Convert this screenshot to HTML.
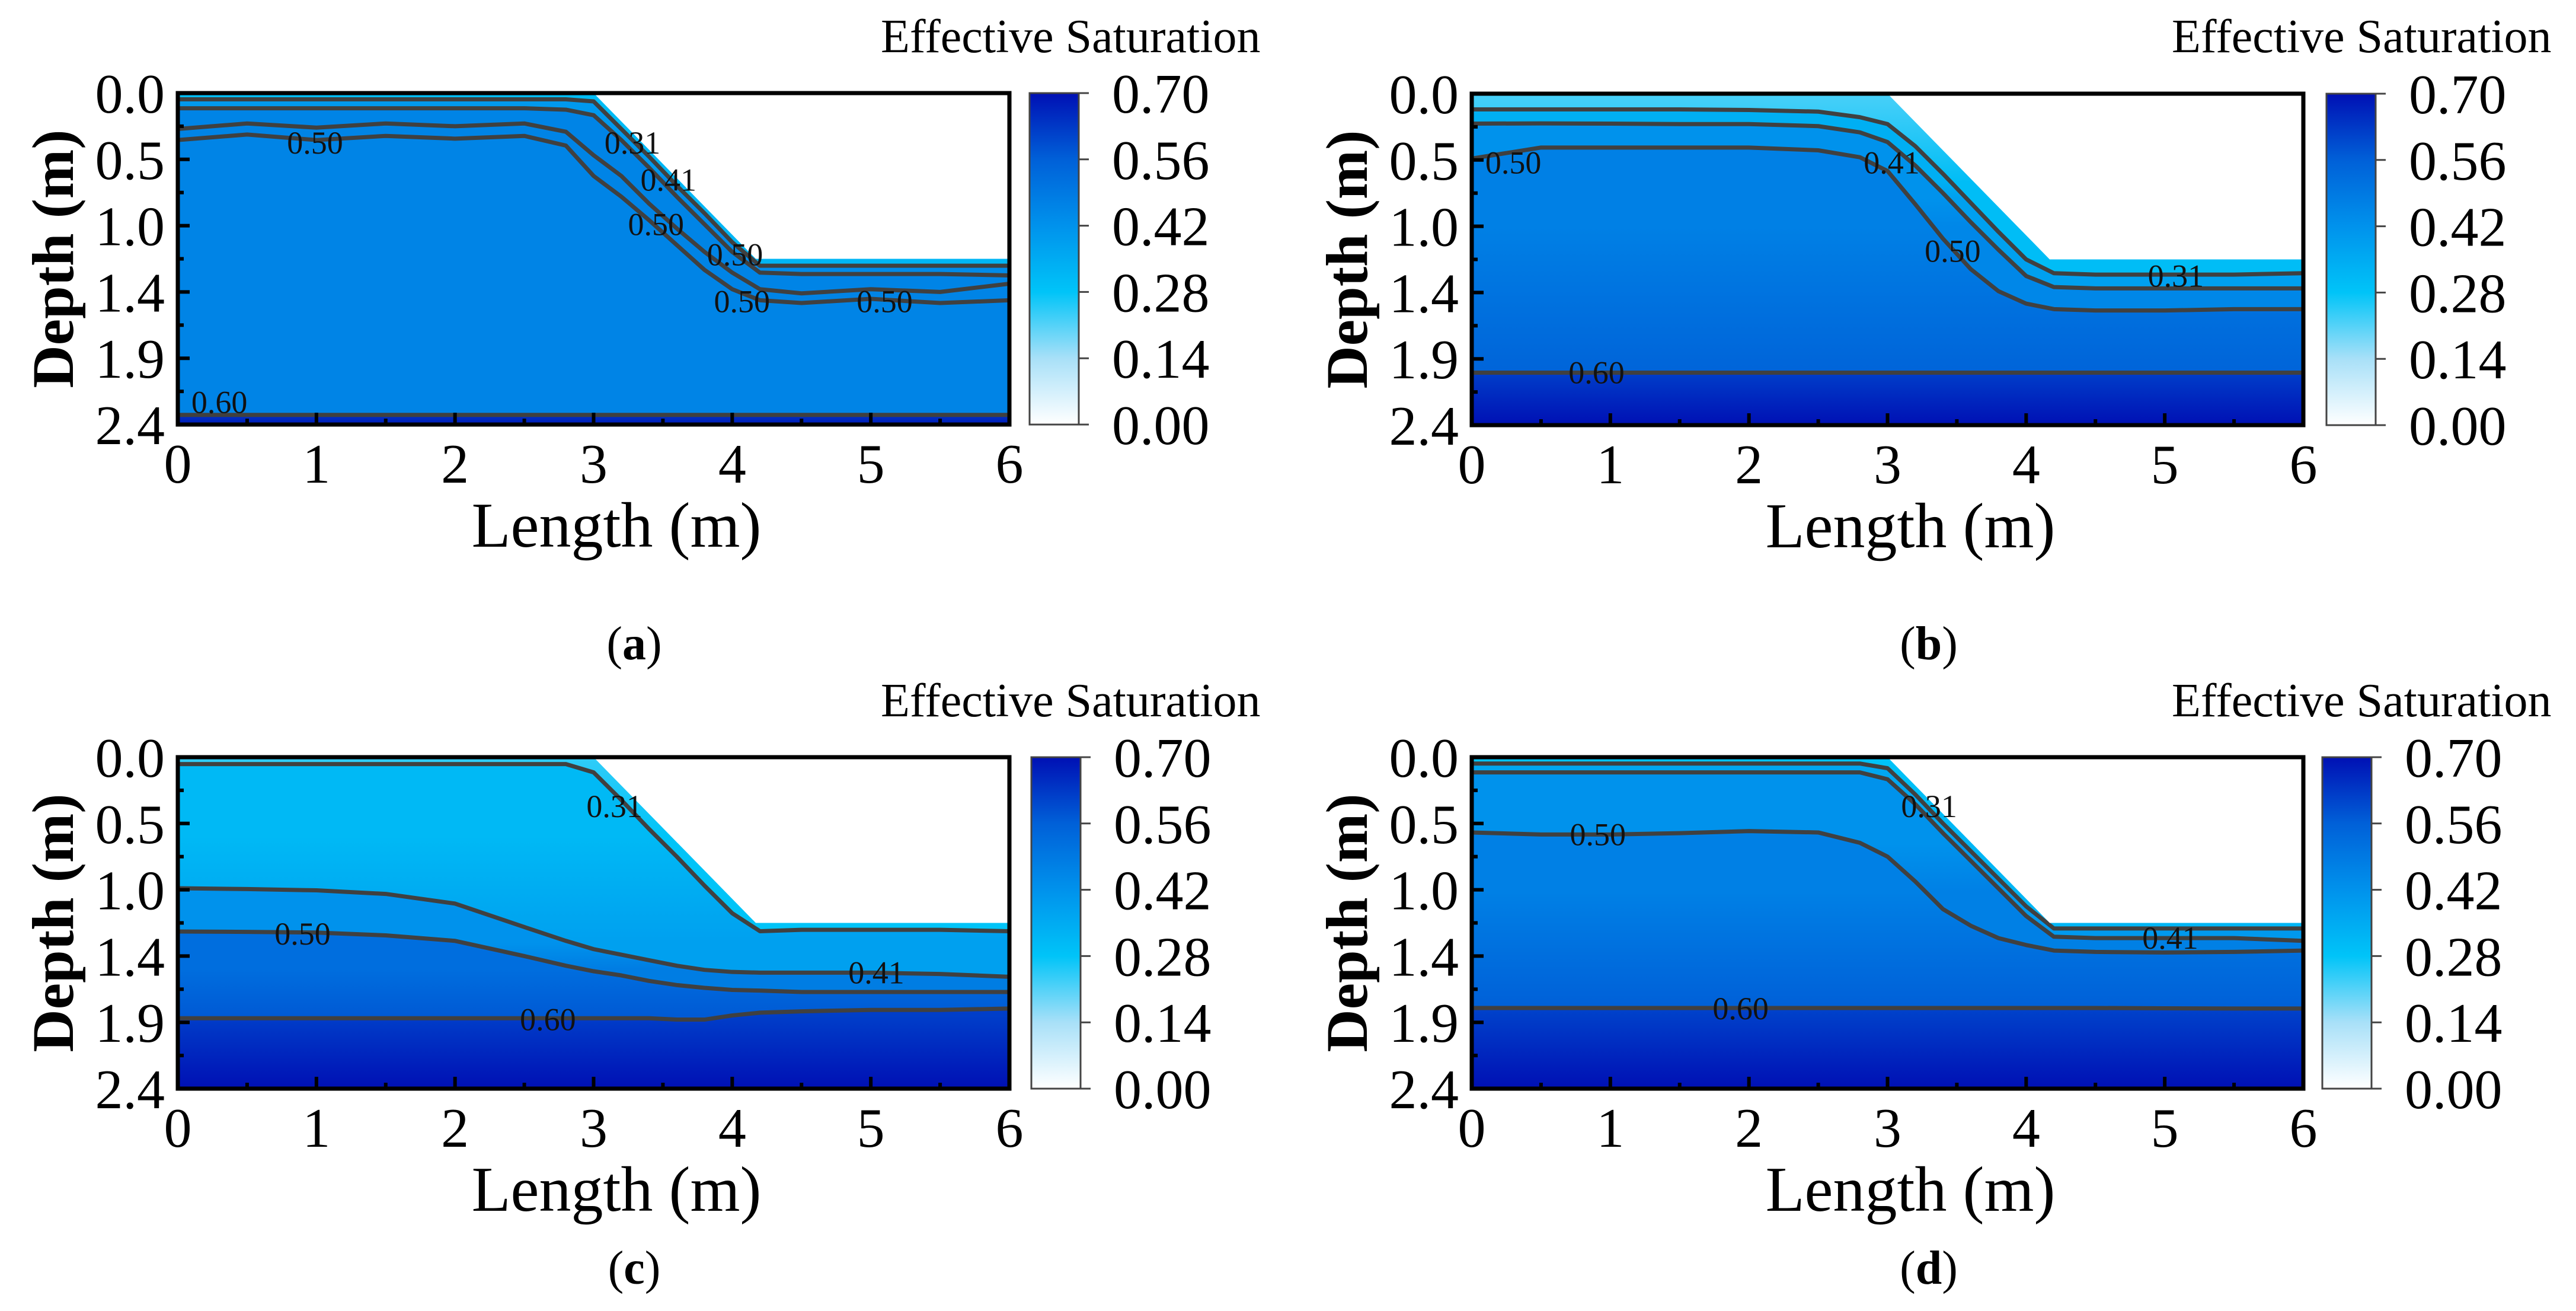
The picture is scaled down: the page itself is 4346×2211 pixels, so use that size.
<!DOCTYPE html>
<html><head><meta charset="utf-8">
<style>
html,body{margin:0;padding:0;background:#fff;}
svg{display:block;font-family:"Liberation Serif","DejaVu Serif",serif;}
</style></head>
<body>
<svg id="fig" width="4346" height="2211" viewBox="0 0 4346 2211" xmlns="http://www.w3.org/2000/svg">
<defs id="defs"></defs>
</svg>
<script>
// ---- shared data ----
const xs = [0,0.5,1,1.5,2,2.5,2.8,3,3.2,3.4,3.6,3.8,4,4.2,4.5,5,5.5,6];
const surfX = [0,3,4.17,6];
const surfD = [0,0,1.2,1.2];
const xTickLabels = ["0","1","2","3","4","5","6"];
const yTickLabels = ["0.0","0.5","1.0","1.4","1.9","2.4"];
const cbTickLabels = ["0.70","0.56","0.42","0.28","0.14","0.00"];
const cmapVals = [0,0.14,0.28,0.42,0.56,0.70];
const cmapCols = ["#ffffff","#a8e0f8","#00c4f8","#0092ec","#0060d8","#0010b4"];

// ---- panel (a) ----
const aLevels = [0.31,0.41,0.50,0.50,0.60];
const aDepths = [
 [0.045,0.045,0.045,0.045,0.045,0.045,0.045,0.06,0.26,0.46,0.67,0.87,1.08,1.25,1.25,1.25,1.25,1.25],
 [0.11,0.11,0.11,0.11,0.11,0.11,0.12,0.16,0.34,0.54,0.75,0.95,1.15,1.30,1.31,1.31,1.31,1.32],
 [0.26,0.22,0.25,0.22,0.24,0.22,0.28,0.45,0.60,0.80,0.98,1.15,1.30,1.42,1.45,1.42,1.44,1.38],
 [0.34,0.30,0.34,0.31,0.33,0.31,0.38,0.60,0.75,0.92,1.10,1.28,1.42,1.50,1.52,1.49,1.52,1.50],
 [2.33,2.33,2.33,2.33,2.33,2.33,2.33,2.33,2.33,2.33,2.33,2.33,2.33,2.33,2.33,2.33,2.33,2.33]
];
const aFillTop = [0.30,0.32];
const aFillBelow = [[0.40,0.44],[0.46,0.46],[0.46,0.46],[0.46,0.46],[0.64,0.68]];
const aLabelText = ["0.50","0.31","0.41","0.50","0.50","0.50","0.50","0.60"];
const aLabelX = [0.99,3.28,3.54,3.45,4.02,4.07,5.10,0.30];
const aLabelD = [0.36,0.36,0.63,0.95,1.17,1.51,1.51,2.24];

// ---- panel (b) ----
const bLevels = [0.31,0.41,0.50,0.60];
const bDepths = [
 [0.114,0.114,0.114,0.114,0.118,0.13,0.17,0.22,0.38,0.58,0.79,1.00,1.20,1.30,1.31,1.31,1.31,1.30],
 [0.217,0.215,0.217,0.22,0.22,0.235,0.28,0.35,0.52,0.72,0.93,1.13,1.32,1.40,1.41,1.41,1.41,1.41],
 [0.47,0.39,0.39,0.39,0.39,0.41,0.46,0.56,0.80,1.05,1.27,1.43,1.52,1.56,1.57,1.57,1.56,1.56],
 [2.02,2.02,2.02,2.02,2.02,2.02,2.02,2.02,2.02,2.02,2.02,2.02,2.02,2.02,2.02,2.02,2.02,2.02]
];
const bFillTop = [0.22,0.30];
const bFillBelow = [[0.34,0.38],[0.42,0.45],[0.47,0.55],[0.62,0.70]];
const bLabelText = ["0.50","0.41","0.50","0.31","0.60"];
const bLabelX = [0.30,3.03,3.47,5.08,0.90];
const bLabelD = [0.50,0.50,1.14,1.32,2.02];

// ---- panel (c) ----
const cLevels = [0.31,0.41,0.50,0.60];
const cDepths = [
 [0.05,0.05,0.05,0.05,0.05,0.05,0.05,0.11,0.31,0.52,0.72,0.93,1.13,1.26,1.25,1.25,1.25,1.26],
 [0.949,0.955,0.964,0.99,1.06,1.23,1.33,1.39,1.43,1.47,1.51,1.54,1.555,1.56,1.56,1.56,1.57,1.59],
 [1.262,1.265,1.27,1.29,1.33,1.44,1.51,1.55,1.58,1.62,1.65,1.67,1.685,1.69,1.70,1.70,1.70,1.70],
 [1.89,1.89,1.89,1.89,1.89,1.89,1.89,1.89,1.89,1.89,1.90,1.90,1.87,1.85,1.84,1.83,1.83,1.82]
];
const cFillTop = [0.24,0.28];
const cFillBelow = [[0.31,0.38],[0.42,0.48],[0.52,0.57],[0.62,0.70]];
const cLabelText = ["0.31","0.50","0.41","0.60"];
const cLabelX = [3.15,0.90,5.04,2.67];
const cLabelD = [0.356,1.28,1.56,1.90];

// ---- panel (d) ----
const dLevels = [0.31,0.41,0.50,0.60];
const dDepths = [
 [0.046,0.046,0.046,0.046,0.046,0.046,0.046,0.08,0.27,0.48,0.68,0.88,1.08,1.24,1.24,1.24,1.24,1.24],
 [0.11,0.11,0.11,0.11,0.11,0.11,0.11,0.16,0.34,0.55,0.75,0.95,1.15,1.30,1.31,1.31,1.31,1.33],
 [0.545,0.56,0.56,0.55,0.535,0.545,0.62,0.72,0.90,1.10,1.22,1.31,1.36,1.40,1.41,1.414,1.41,1.40],
 [1.816,1.816,1.816,1.816,1.816,1.816,1.816,1.816,1.816,1.816,1.816,1.816,1.816,1.816,1.816,1.818,1.82,1.82]
];
const dFillTop = [0.28,0.32];
const dFillBelow = [[0.36,0.40],[0.42,0.47],[0.47,0.56],[0.61,0.70]];
const dLabelText = ["0.31","0.50","0.41","0.60"];
const dLabelX = [3.30,0.91,5.04,1.94];
const dLabelD = [0.356,0.56,1.31,1.82];

// ---- layout (not data) ----
const layout = [
 {id:"a", px:300, py:157, cbx:1737, titleX:1486, titleY:88, capX:1070, capY:1112},
 {id:"b", px:2483, py:158, cbx:3925, titleX:3664, titleY:88, capX:3254, capY:1112},
 {id:"c", px:300, py:1277, cbx:1740, titleX:1486, titleY:1208, capX:1070, capY:2165},
 {id:"d", px:2483, py:1277, cbx:3918, titleX:3664, titleY:1208, capX:3254, capY:2165}
];
const PW = 1403, PH = 559, CBW = 83;

const panelData = {
 a:{levels:aLevels, depths:aDepths, top:aFillTop, below:aFillBelow, lt:aLabelText, lx:aLabelX, ld:aLabelD},
 b:{levels:bLevels, depths:bDepths, top:bFillTop, below:bFillBelow, lt:bLabelText, lx:bLabelX, ld:bLabelD},
 c:{levels:cLevels, depths:cDepths, top:cFillTop, below:cFillBelow, lt:cLabelText, lx:cLabelX, ld:cLabelD},
 d:{levels:dLevels, depths:dDepths, top:dFillTop, below:dFillBelow, lt:dLabelText, lx:dLabelX, ld:dLabelD}
};

const NS = "http://www.w3.org/2000/svg";
const svg = document.getElementById("fig");
const defs = document.getElementById("defs");
function mk(tag, attrs, parent){
  const e = document.createElementNS(NS, tag);
  for (const k in attrs) e.setAttribute(k, attrs[k]);
  (parent||svg).appendChild(e);
  return e;
}
function hex2rgb(h){return [parseInt(h.substr(1,2),16),parseInt(h.substr(3,2),16),parseInt(h.substr(5,2),16)];}
function cmap(v){
  v = Math.max(0, Math.min(0.70, v));
  for (let i=0;i<cmapVals.length-1;i++){
    if (v <= cmapVals[i+1]){
      const t = (v-cmapVals[i])/(cmapVals[i+1]-cmapVals[i]);
      const a = hex2rgb(cmapCols[i]), b = hex2rgb(cmapCols[i+1]);
      return "rgb("+a.map((c,j)=>Math.round(c+(b[j]-c)*t)).join(",")+")";
    }
  }
  return cmapCols[cmapCols.length-1];
}

layout.forEach(L => {
  const D = panelData[L.id];
  const X = x => L.px + x/6*PW;
  const Y = d => L.py + d/2.4*PH;
  const g = mk("g", {});
  
  

  // clip path for soil domain
  const cp = mk("clipPath", {id:"clip-"+L.id}, defs);
  let dom = surfX.map((x,i)=>X(x)+","+Y(surfD[i])).join(" ") + " " + X(6)+","+Y(2.4)+" "+X(0)+","+Y(2.4);
  mk("polygon", {points:dom}, cp);

  const fg = mk("g", {"clip-path":"url(#clip-"+L.id+")"}, g);
  
  

  // top band gradient
  function grad(id, v0, v1, y0, y1){
    const lg = mk("linearGradient", {id:id, gradientUnits:"userSpaceOnUse", x1:0, x2:0, y1:y0, y2:y1}, defs);
    mk("stop", {offset:0, "stop-color":cmap(v0)}, lg);
    mk("stop", {offset:1, "stop-color":cmap(v1)}, lg);
  }
  const mean = arr => arr.reduce((s,v)=>s+v,0)/arr.length;
  grad("gt-"+L.id, D.top[0], D.top[1], Y(0), Y(mean(D.depths[0])));
  const topRect = mk("rect", {x:L.px, y:L.py, width:PW, height:PH, fill:"url(#gt-"+L.id+")"}, fg);
  
  

  D.depths.forEach((dep, i) => {
    const y0 = Y(mean(dep));
    const y1 = i+1 < D.depths.length ? Y(mean(D.depths[i+1])) : Y(2.4);
    grad("gb-"+L.id+"-"+i, D.below[i][0], D.below[i][1], y0, Math.max(y1, y0+1));
    let pts = xs.map((x,k)=>X(x)+","+Y(dep[k])).join(" ") + " " + X(6)+","+Y(2.4)+" "+X(0)+","+Y(2.4);
    const band = mk("polygon", {points:pts, fill:"url(#gb-"+L.id+"-"+i+")"}, fg);
    
    
  });
  D.depths.forEach((dep, i) => {
    const pl = mk("polyline", {points:xs.map((x,k)=>X(x)+","+Y(dep[k])).join(" "), fill:"none", stroke:"#404040", "stroke-width":7, "stroke-linejoin":"round", "stroke-linecap":"round"}, fg);
    
    
  });
  D.lt.forEach((t, i) => {
    const tx = mk("text", {x:X(D.lx[i]), y:Y(D.ld[i]), "font-size":54, "text-anchor":"middle", "dominant-baseline":"central", fill:"#111"}, g);
    tx.textContent = t;
    
    
  });

  // frame
  const fr = mk("rect", {x:L.px, y:L.py, width:PW, height:PH, fill:"none", stroke:"#000", "stroke-width":7}, g);
  
  

  // y ticks
  yTickLabels.forEach((lab, i) => {
    const y = L.py + i/5*PH;
    mk("line", {x1:L.px, x2:L.px+20, y1:y, y2:y, stroke:"#000", "stroke-width":6}, g);
    if (i<5) mk("line", {x1:L.px, x2:L.px+10, y1:y+PH/10, y2:y+PH/10, stroke:"#000", "stroke-width":6}, g);
    const t = mk("text", {x:L.px-22, y:y+33, "font-size":94, "text-anchor":"end"}, g);
    t.textContent = lab;
    
    
  });
  // x ticks
  xTickLabels.forEach((lab, i) => {
    const x = L.px + i/6*PW;
    mk("line", {x1:x, x2:x, y1:L.py+PH, y2:L.py+PH-20, stroke:"#000", "stroke-width":6}, g);
    if (i<6) mk("line", {x1:x+PW/12, x2:x+PW/12, y1:L.py+PH, y2:L.py+PH-10, stroke:"#000", "stroke-width":6}, g);
    const t = mk("text", {x:x, y:L.py+PH+98, "font-size":94, "text-anchor":"middle"}, g);
    t.textContent = lab;
    
    
  });
  const yt = mk("text", {x:0, y:0, "font-size":100, "font-weight":"bold", "text-anchor":"middle", transform:"translate("+(L.px-212+35)+","+(L.py+PH/2)+") rotate(-90)"}, g);
  yt.textContent = "Depth (m)";
  
  
  const xt = mk("text", {x:L.px+740, y:L.py+PH+206, "font-size":108, "text-anchor":"middle"}, g);
  xt.textContent = "Length (m)";
  
  

  // colorbar
  const cg = mk("linearGradient", {id:"cb-"+L.id, x1:0, x2:0, y1:1, y2:0}, defs);
  cmapVals.forEach((v,i)=>mk("stop", {offset:v/0.70, "stop-color":cmapCols[i]}, cg));
  const cb = mk("rect", {x:L.cbx, y:L.py, width:CBW, height:PH, fill:"url(#cb-"+L.id+")", stroke:"#444", "stroke-width":3}, g);
  
  
  cbTickLabels.forEach((lab, i) => {
    const y = L.py + i/5*PH;
    mk("line", {x1:L.cbx+CBW, x2:L.cbx+CBW+17, y1:y, y2:y, stroke:"#444", "stroke-width":3}, g);
    const t = mk("text", {x:L.cbx+139, y:y+33, "font-size":94}, g);
    t.textContent = lab;
    
    
  });
  const ti = mk("text", {x:L.titleX, y:L.titleY, "font-size":80}, g);
  ti.textContent = "Effective Saturation";
  
  

  const cap = mk("text", {x:L.capX, y:L.capY, "font-size":80, "text-anchor":"middle"}, g);
  cap.innerHTML = '(<tspan font-weight="bold">'+L.id+'</tspan>)';
  
  
});
</script>
</body></html>
